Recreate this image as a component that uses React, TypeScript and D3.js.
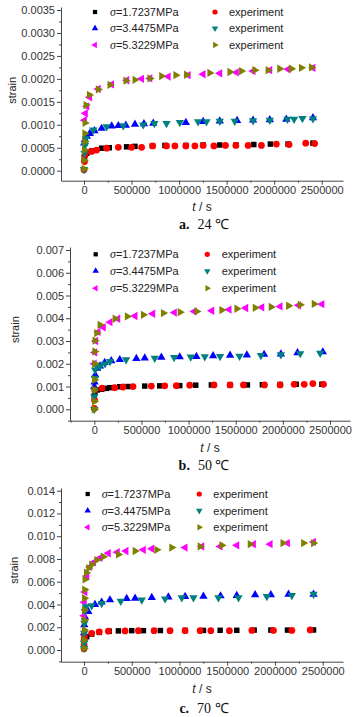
import { useEffect, useRef } from "react";
import * as d3 from "d3";

type Pt = [number, number]; // [t (s), strain]

// ---- a. 24 ℃ ----
const aModel1: Pt[] = [[2000, 0.00028], [10000, 0.00033], [30000, 0.00038], [80000, 0.00043], [185000, 0.00049], [266000, 0.0005], [448000, 0.00052], [536000, 0.00053], [720000, 0.00054], [851000, 0.00055], [1071000, 0.00055], [1253000, 0.00056], [1428000, 0.00056], [1600000, 0.00056], [1786000, 0.00057], [1960000, 0.00058], [2146000, 0.00058], [2408000, 0.0006]];
const aExp1: Pt[] = [[0, 0.00002], [5000, 0.0002], [10000, 0.00034], [20000, 0.00041], [80000, 0.00042], [133000, 0.00045], [238000, 0.00049], [361000, 0.00051], [501000, 0.00051], [606000, 0.00051], [722000, 0.00054], [868000, 0.00054], [956000, 0.00054], [1071000, 0.00054], [1166000, 0.00054], [1253000, 0.00055], [1366000, 0.00054], [1488000, 0.00055], [1597000, 0.00055], [1726000, 0.00055], [1866000, 0.00055], [2023000, 0.00058], [2157000, 0.00057], [2332000, 0.0006], [2426000, 0.00059]];
const aModel2: Pt[] = [[2000, 0.0006], [10000, 0.00068], [30000, 0.00075], [60000, 0.00081], [110000, 0.00087], [185000, 0.00092], [291000, 0.00097], [361000, 0.00098], [440000, 0.00099], [536000, 0.00101], [630000, 0.00102], [728000, 0.00103], [1071000, 0.00105], [1253000, 0.00107], [1428000, 0.00108], [1610000, 0.00109], [1778000, 0.0011], [1954000, 0.00111], [2128000, 0.00112], [2408000, 0.00115]];
const aExp2: Pt[] = [[0, 0.00003], [5000, 0.00038], [10000, 0.00055], [20000, 0.0007], [98000, 0.00089], [238000, 0.00096], [413000, 0.00098], [623000, 0.001], [740000, 0.00103], [868000, 0.00103], [1008000, 0.00105], [1200000, 0.00107], [1288000, 0.00107], [1428000, 0.00108], [1586000, 0.00108], [1778000, 0.00109], [1954000, 0.0011], [2140000, 0.00112], [2209000, 0.00112], [2297000, 0.00114], [2408000, 0.00113]];
const aModel3: Pt[] = [[5000, 0.0011], [15000, 0.00125], [30000, 0.0014], [60000, 0.0016], [150000, 0.00178], [290000, 0.00188], [450000, 0.00197], [606000, 0.002], [693000, 0.00201], [886000, 0.00205], [1096000, 0.00208], [1253000, 0.0021], [1428000, 0.00212], [1603000, 0.00214], [1778000, 0.00217], [1954000, 0.00219], [2146000, 0.00221], [2408000, 0.00224]];
const aExp3: Pt[] = [[0, 0.00004], [2000, 0.00023], [4000, 0.00045], [6000, 0.00063], [8000, 0.00081], [10000, 0.00104], [21000, 0.00143], [56000, 0.00165], [150000, 0.00177], [273000, 0.00187], [441000, 0.00196], [536000, 0.00198], [693000, 0.00201], [816000, 0.00206], [966000, 0.00208], [1078000, 0.00209], [1323000, 0.00213], [1534000, 0.00215], [1656000, 0.00217], [1796000, 0.00219], [1936000, 0.00219], [2058000, 0.00222], [2181000, 0.00222], [2286000, 0.00224], [2392000, 0.00225]];

// ---- b. 50 ℃ ----
const bModel1: Pt[] = [[0, 0.0006], [5000, 0.00075], [32000, 0.00085], [79000, 0.00088], [127000, 0.00092], [167000, 0.00095], [270000, 0.00099], [358000, 0.001], [535000, 0.00102], [694000, 0.00103], [906000, 0.00104], [1076000, 0.00106], [1242000, 0.00107], [1440000, 0.00107], [1624000, 0.00107], [1783000, 0.00108], [1971000, 0.00109], [2141000, 0.0011], [2414000, 0.0011]];
const bExp1: Pt[] = [[0, 0.00004], [2000, 0.00041], [4000, 0.00085], [82000, 0.00093], [216000, 0.00095], [305000, 0.00098], [411000, 0.001], [605000, 0.00102], [747000, 0.00103], [870000, 0.00104], [1012000, 0.00106], [1270000, 0.00107], [1440000, 0.00107], [1582000, 0.00107], [1805000, 0.00107], [1971000, 0.00107], [2120000, 0.0011], [2226000, 0.0011], [2318000, 0.00113], [2431000, 0.0011]];
const bModel2: Pt[] = [[0, 0.001], [3000, 0.0012], [10000, 0.0015], [30000, 0.0018], [60000, 0.0019], [110000, 0.00205], [180000, 0.00213], [270000, 0.00218], [446000, 0.00223], [535000, 0.00225], [711000, 0.00228], [906000, 0.0023], [1083000, 0.00232], [1260000, 0.00235], [1440000, 0.00237], [1618000, 0.00238], [1801000, 0.00241], [1979000, 0.00243], [2155000, 0.00248], [2424000, 0.00252]];
const bExp2: Pt[] = [[0, 0.0], [1000, 0.00056], [3000, 0.00085], [5000, 0.00137], [8000, 0.00173], [20000, 0.00195], [60000, 0.00188], [114000, 0.002], [167000, 0.0021], [337000, 0.00218], [641000, 0.00225], [846000, 0.00228], [1023000, 0.0023], [1172000, 0.00231], [1334000, 0.00232], [1540000, 0.00233], [1767000, 0.00237], [1979000, 0.0024], [2184000, 0.00245], [2396000, 0.00247]];
const bModel3: Pt[] = [[0, 0.002], [5000, 0.0025], [15000, 0.003], [40000, 0.0034], [96000, 0.0036], [167000, 0.00383], [250000, 0.00398], [432000, 0.0041], [620000, 0.0042], [850000, 0.00425], [1060000, 0.0043], [1246000, 0.00433], [1430000, 0.00438], [1607000, 0.00445], [1777000, 0.00448], [1971000, 0.00452], [2166000, 0.00457], [2414000, 0.00462]];
const bExp3: Pt[] = [[0, 0.0], [1000, 0.00035], [2000, 0.00085], [3000, 0.0013], [4000, 0.002], [5000, 0.00254], [7000, 0.00302], [25000, 0.00335], [60000, 0.00371], [220000, 0.00398], [350000, 0.00408], [520000, 0.00415], [732000, 0.00423], [910000, 0.00427], [1087000, 0.0043], [1352000, 0.00436], [1512000, 0.00442], [1706000, 0.00446], [1876000, 0.0045], [2060000, 0.00455], [2184000, 0.00459], [2332000, 0.00463]];

// ---- c. 70 ℃ ----
const cModel1: Pt[] = [[0, 0.0006], [3000, 0.0008], [10000, 0.001], [28000, 0.00117], [80000, 0.0014], [160000, 0.00155], [265000, 0.00165], [360000, 0.00168], [500000, 0.0017], [622000, 0.0017], [800000, 0.00171], [1059000, 0.00172], [1251000, 0.00172], [1426000, 0.00173], [1600000, 0.00173], [1782000, 0.00175], [1957000, 0.00175], [2131000, 0.00175], [2404000, 0.00176]];
const cExp1: Pt[] = [[0, 0.0001], [1000, 0.00044], [2000, 0.00088], [4000, 0.00117], [80000, 0.00147], [160000, 0.0016], [255000, 0.00165], [430000, 0.00168], [570000, 0.0017], [734000, 0.0017], [901000, 0.0017], [1059000, 0.0017], [1216000, 0.0017], [1328000, 0.0017], [1523000, 0.0017], [1758000, 0.00172], [1984000, 0.00172], [2177000, 0.00172], [2369000, 0.00176]];
const cModel2: Pt[] = [[0, 0.0015], [3000, 0.0022], [10000, 0.0029], [45000, 0.00337], [115000, 0.004], [185000, 0.0042], [272000, 0.0044], [447000, 0.00452], [535000, 0.00455], [710000, 0.0046], [884000, 0.00465], [1059000, 0.0047], [1251000, 0.00472], [1430000, 0.00475], [1600000, 0.00478], [1792000, 0.00485], [1957000, 0.00485], [2142000, 0.0049], [2404000, 0.0049]];
const cExp2: Pt[] = [[0, 0.00015], [1000, 0.0006], [2000, 0.00147], [4000, 0.00235], [8000, 0.0034], [20000, 0.0038], [80000, 0.0039], [185000, 0.0041], [385000, 0.0043], [605000, 0.0044], [849000, 0.0045], [1024000, 0.0046], [1146000, 0.0046], [1408000, 0.0046], [1618000, 0.0046], [1915000, 0.0047], [2177000, 0.0048], [2404000, 0.0049]];
const cModel3: Pt[] = [[0, 0.003], [3000, 0.0042], [10000, 0.0051], [30000, 0.0065], [60000, 0.0073], [100000, 0.0077], [168000, 0.0081], [255000, 0.0085], [349000, 0.0086], [440000, 0.0087], [622000, 0.0088], [710000, 0.0089], [1059000, 0.009], [1234000, 0.0091], [1426000, 0.0091], [1600000, 0.0092], [1775000, 0.0093], [1950000, 0.0093], [2131000, 0.0094], [2404000, 0.0095]];
const cExp3: Pt[] = [[0, 0.00015], [1000, 0.00088], [2000, 0.00176], [3000, 0.00264], [4000, 0.0035], [5000, 0.00455], [7000, 0.0053], [10000, 0.0062], [25000, 0.0068], [50000, 0.0072], [80000, 0.0075], [133000, 0.0079], [202000, 0.0082], [360000, 0.0084], [535000, 0.0087], [762000, 0.0088], [919000, 0.009], [1216000, 0.0091], [1443000, 0.0092], [1740000, 0.0093], [2083000, 0.0094], [2299000, 0.0094], [2404000, 0.0094]];

const stressLabels = ["1.7237", "3.4475", "5.3229"];
const captionLetters = ["a.", "b.", "c."];
const captionTemps = ["24 ℃", "50 ℃", "70 ℃"];
const xTicks = [0, 500000, 1000000, 1500000, 2000000, 2500000];
const yTicksA = [0, 0.0005, 0.001, 0.0015, 0.002, 0.0025, 0.003, 0.0035];
const yTicksB = [0, 0.001, 0.002, 0.003, 0.004, 0.005, 0.006, 0.007];
const yTicksC = [0, 0.002, 0.004, 0.006, 0.008, 0.01, 0.012, 0.014];

const panelData = [
  [aModel1, aExp1, aModel2, aExp2, aModel3, aExp3],
  [bModel1, bExp1, bModel2, bExp2, bModel3, bExp3],
  [cModel1, cExp1, cModel2, cExp2, cModel3, cExp3],
];
const panelYTicks = [yTicksA, yTicksB, yTicksC];

// pixel layout of each panel
const layout = [
  { x0: 84, x1: 321.7, xl: 61, xr: 343, y0: 170.7, yTop: 10, yAxisTop: 7, xAxisY: 180.7, fmt: ".4f", legY: [12, 28.3, 45], legX: [95, 110, 215, 229], strainX: 12, tsY: 210.5, capY: 229 },
  { x0: 94.3, x1: 330, xl: 70, xr: 350, y0: 409.3, yTop: 250, yAxisTop: 247, xAxisY: 420.7, fmt: ".3f", legY: [254.3, 271, 288.3], legX: [95.7, 110, 207.3, 221.7], strainX: 15, tsY: 452, capY: 469.5 },
  { x0: 84, x1: 322.7, xl: 61, xr: 343, y0: 650, yTop: 490.7, yAxisTop: 488, xAxisY: 661.7, fmt: ".3f", legY: [494, 510.7, 527.3], legX: [87.7, 101.7, 199.3, 213.3], strainX: 14, tsY: 693, capY: 713 },
];

const seriesStyle = [
  { shape: d3.symbolSquare, rot: 0, color: "#000000", size: 30 },
  { shape: d3.symbolCircle, rot: 0, color: "#ff0000", size: 36 },
  { shape: d3.symbolTriangle, rot: 0, color: "#0000ff", size: 30 },
  { shape: d3.symbolTriangle, rot: 180, color: "#008080", size: 30 },
  { shape: d3.symbolTriangle, rot: -90, color: "#ff00ff", size: 30 },
  { shape: d3.symbolTriangle, rot: 90, color: "#808000", size: 30 },
];
const drawOrder = [0, 2, 4, 1, 3, 5];

const SANS = "'Liberation Sans', Arial, sans-serif";
const SERIF = "'Liberation Serif', 'Times New Roman', serif";

export default function App() {
  const svgRef = useRef<SVGSVGElement>(null);

  useEffect(() => {
    if (!svgRef.current) return;
    const svg = d3.select(svgRef.current);
    svg.selectAll("*").remove();

    svg.append("rect").attr("width", 360).attr("height", 717).attr("fill", "#ffffff");

    layout.forEach((L, p) => {
      const yTicks = panelYTicks[p];
      const yMax = yTicks[yTicks.length - 1];
      const g = svg.append("g");

      const x = d3.scaleLinear().domain([0, 2500000]).range([L.x0, L.x1]);
      x.domain([x.invert(L.xl), x.invert(L.xr)]).range([L.xl, L.xr]);
      const y = d3.scaleLinear().domain([0, yMax]).range([L.y0, L.yTop]);
      y.domain([y.invert(L.xAxisY), y.invert(L.yAxisTop)]).range([L.xAxisY, L.yAxisTop]);

      const [xd0, xd1] = x.domain();
      const xMinor = d3.range(-250000, 2750001, 500000).filter(v => v >= xd0 && v <= xd1);
      const [yd0, yd1] = y.domain();
      const yStep = yTicks[1] - yTicks[0];
      const yMinor = d3.range(-yStep / 2, yMax + yStep, yStep).filter(v => v >= yd0 && v <= yd1);

      // minor ticks
      g.append("g")
        .attr("transform", `translate(0,${L.xAxisY})`)
        .call(d3.axisBottom(x).tickValues(xMinor).tickSize(2).tickSizeOuter(0).tickFormat(() => ""))
        .call(s => s.select(".domain").remove());
      g.append("g")
        .attr("transform", `translate(${L.xl},0)`)
        .call(d3.axisLeft(y).tickValues(yMinor).tickSize(2).tickSizeOuter(0).tickFormat(() => ""))
        .call(s => s.select(".domain").remove());

      // X axis
      g.append("g")
        .attr("transform", `translate(0,${L.xAxisY})`)
        .call(d3.axisBottom(x).tickValues(xTicks).tickSize(4).tickSizeOuter(0).tickPadding(2).tickFormat(d3.format("d") as any))
        .call(s => s.selectAll("text").attr("font-family", SANS).attr("font-size", 11).attr("fill", "#333"));

      // Y axis
      g.append("g")
        .attr("transform", `translate(${L.xl},0)`)
        .call(d3.axisLeft(y).tickValues(yTicks).tickSize(4).tickSizeOuter(0).tickPadding(2).tickFormat(d3.format(L.fmt) as any))
        .call(s => s.selectAll("text").attr("font-family", SANS).attr("font-size", 11).attr("fill", "#333"));

      g.selectAll(".domain, .tick line").attr("stroke", "#444").attr("stroke-width", 1);

      // data points
      drawOrder.forEach(si => {
        const st = seriesStyle[si];
        const sym = d3.symbol().type(st.shape).size(st.size);
        g.append("g")
          .selectAll("path")
          .data(panelData[p][si])
          .enter()
          .append("path")
          .attr("d", sym)
          .attr("transform", d => `translate(${x(d[0])},${y(d[1])}) rotate(${st.rot})`)
          .attr("fill", st.color);
      });

      // legend
      const leg = g.append("g").attr("font-family", SANS).attr("font-size", 11).attr("fill", "#222");
      stressLabels.forEach((lab, i) => {
        const ly = L.legY[i];
        const mSt = seriesStyle[i * 2];
        const eSt = seriesStyle[i * 2 + 1];
        leg.append("path")
          .attr("d", d3.symbol().type(mSt.shape).size(mSt.size * 0.6)())
          .attr("transform", `translate(${L.legX[0]},${ly}) rotate(${mSt.rot})`)
          .attr("fill", mSt.color);
        const t1 = leg.append("text").attr("x", L.legX[1]).attr("y", ly + 4);
        t1.append("tspan").attr("font-family", SERIF).attr("font-style", "italic").attr("font-size", 12).text("σ");
        t1.append("tspan").text(`=${lab}MPa`);
        leg.append("path")
          .attr("d", d3.symbol().type(eSt.shape).size(eSt.size * 0.6)())
          .attr("transform", `translate(${L.legX[2]},${ly}) rotate(${eSt.rot})`)
          .attr("fill", eSt.color);
        leg.append("text").attr("x", L.legX[3]).attr("y", ly + 4).text("experiment");
      });

      // axis titles
      const cy = (L.y0 + L.yTop) / 2;
      g.append("text")
        .attr("transform", `translate(${L.strainX + 4},${cy}) rotate(-90)`)
        .attr("text-anchor", "middle")
        .attr("font-family", SANS).attr("font-size", 11).attr("fill", "#222")
        .text("strain");

      const ts = g.append("text")
        .attr("x", (L.xl + L.xr) / 2).attr("y", L.tsY)
        .attr("text-anchor", "middle")
        .attr("font-family", SANS).attr("font-size", 12).attr("fill", "#222");
      ts.append("tspan").attr("font-style", "italic").text("t");
      ts.append("tspan").text(" / s");

      // caption
      const cap = g.append("text")
        .attr("x", 204).attr("y", L.capY)
        .attr("text-anchor", "middle")
        .attr("font-family", SERIF).attr("font-size", 14).attr("fill", "#111");
      cap.append("tspan").attr("font-weight", "bold").text(captionLetters[p]);
      cap.append("tspan").attr("dx", 8).text(captionTemps[p]);
    });
  }, []);

  return (
    <div style={{ position: "absolute", left: 0, top: 0, width: 360, height: 717 }}>
      <svg ref={svgRef} width={360} height={717} style={{ display: "block" }}></svg>
    </div>
  );
}
